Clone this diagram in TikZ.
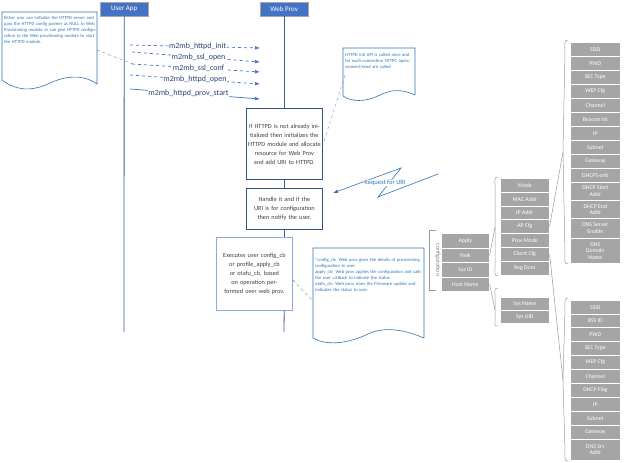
\documentclass[tikz,border=0pt]{standalone}
\usepackage{fontspec}
\setmainfont{Carlito}
\usetikzlibrary{arrows.meta,decorations.pathreplacing}
\definecolor{hb}{HTML}{4472C4}
\definecolor{tb}{HTML}{2E75B6}
\definecolor{gb}{HTML}{A5A5A5}
\tikzset{
 hdr/.style={draw=gray!70,fill=hb,text=white,minimum width=48pt,minimum height=14pt,font=\fontsize{7}{8}\selectfont,inner sep=0pt},
 life/.style={draw=hb!80!black,line width=0.8pt},
 pbox/.style={draw=hb!70!black,fill=white,line width=0.8pt,align=center,font=\fontsize{6.3}{9}\selectfont,text=black!75,inner sep=1pt},
 call/.style={draw=hb,-{Latex[length=5pt]},line width=0.7pt},
 clab/.style={fill=white,font=\fontsize{8}{9}\selectfont,text=hb!60!black,inner sep=0.5pt},
 notetxt/.style={font=\fontsize{4.6}{6}\selectfont,text=tb,align=left,anchor=north west,inner sep=0pt},
 cell/.style={fill=gb,draw=white,line width=0.6pt,text=white,font=\fontsize{5.8}{6.5}\selectfont,align=center,inner sep=0pt},
 gl/.style={draw=gray!80,line width=0.5pt},
}
\newcommand{\cellbox}[5]{\node[cell,minimum width=#3pt,minimum height=#4pt,anchor=north west] (#1) at (#2) {#5};}
\begin{document}
\begin{tikzpicture}[x=1pt,y=-1pt]
\useasboundingbox (0,0) rectangle (624,463);
% headers
\node[hdr,anchor=north west] (ua) at (100,2) {User App};
\node[hdr,anchor=north west] (wp) at (260,2) {Web Prov};
\coordinate (uaend) at (124,332);
\draw[life] (ua.south) -- (uaend);
% boxes
\node[pbox,text width=74pt,minimum height=71pt,anchor=north west] (b1) at (246,108) {If HTTPD is not already initialized then initializes the HTTPD module and allocate resource for Web Prov and add URI to HTTPD.};
\node[pbox,text width=74pt,minimum height=41pt,anchor=north west] (b2) at (246,188) {Handle it and if the URI is for configuration then notify the user.};
\node[pbox,text width=74pt,minimum height=73pt,anchor=north west,draw=hb!60,fill=white,drop shadow/.style={}] (b3) at (216,237) {Executes user config\_cb or profile\_apply\_cb or otafu\_cb, based on operation performed over web prov.};
\coordinate (wpend) at (284,332);
\draw[life] (wp.south) -- (b1.north -| wp.south);
\draw[life] (b1.south -| wp.south) -- (b2.north -| wp.south);
\draw[life] (b2.south -| wp.south) -- (b3.north -| wp.south);
\draw[life] (b3.south -| wp.south) -- (wpend);
% calls
\coordinate (c1) at (130,45); \coordinate (d1) at (260,48);
\coordinate (c2) at (132,52); \coordinate (d2) at (260,62);
\coordinate (c3) at (132,64); \coordinate (d3) at (260,72);
\coordinate (c4) at (130,75); \coordinate (d4) at (260,84);
\coordinate (c5) at (130,89); \coordinate (d5) at (260,99);
\draw[call,dashed] (c1) -- node[clab,pos=0.52]{m2mb\_httpd\_init} (d1);
\draw[call,dashed] (c2) -- node[clab,pos=0.52]{m2mb\_ssl\_open} (d2);
\draw[call,dashed] (c3) -- node[clab,pos=0.52]{m2mb\_ssl\_conf} (d3);
\draw[call,dashed] (c4) -- node[clab,pos=0.5]{m2mb\_httpd\_open} (d4);
\draw[call] (c5) -- node[clab,pos=0.45]{m2mb\_httpd\_prov\_start} (d5);
% note 1
\draw[draw=tb,fill=white,line width=0.6pt] (2,12) -- (97,12) -- (97,84) .. controls (80,72) and (60,78) .. (48,84) .. controls (30,92) and (15,90) .. (2,80) -- cycle;
\node[notetxt,text width=93pt] (n1) at (4,16) {Either user can initialize the HTTPD server and pass the HTTPD config pointer as NULL to Web Provisioning module or can give HTTPD configuration to the Web provisioning module to start the HTTPD module.};
\coordinate (n1a) at (97,50);
\coordinate (n1b) at (133,64);
\draw[gray,dashed,line width=0.4pt] (n1a) -- (n1b);
% note 2
\draw[draw=tb,fill=white,line width=0.6pt] (343,48) -- (415,48) -- (415,95) .. controls (400,88) and (390,90) .. (378,96) .. controls (365,102) and (352,102) .. (343,96) -- cycle;
\node[notetxt,text width=70pt] (n2) at (345,53) {HTTPD init API is called once and for each connection HTTPC open/ connect/send are called};
\coordinate (n2a) at (345,75);
\draw[tb!70,dashed,line width=0.4pt] (n2a) -- (b1.north east |- 0,145);
% request
\coordinate (r0) at (438,174);
\coordinate (r1) at (378,197);
\coordinate (r2) at (401,168);
\coordinate (r3) at (333,193);
\draw[draw=tb,line width=0.6pt,-{Latex[length=5pt]}] (r0) -- (r1) -- (r2) -- (r3);
\node[fill=white,text=tb,font=\fontsize{6.5}{7}\selectfont,inner sep=0.5pt] (rq) at (385,183) {Request for URI};
% note 3
\draw[draw=tb,fill=white,line width=0.6pt] (313,248) -- (424,248) -- (424,338) .. controls (405,330) and (385,326) .. (368,334) .. controls (345,345) and (325,345) .. (313,338) -- cycle;
\node[notetxt,text width=109pt] (n3) at (315,258) {*config\_cb: Web prov gives the details of provisioning configuration to user.\\ *apply\_cb: Web prov applies the configuration and calls the user callback to indicate the status.\\ *otafu\_cb: Web prov, does the Firmware update and indicates the status to user.};
\coordinate (n3a) at (314,302);
\draw[gray,dashed,line width=0.4pt] (b3.east |- 0,280) -- (n3a);
% configuration bracket
\draw[gl] (436,230) -- (429,230) -- (429,290) -- (436,290);
\node[rotate=-90,text=gray,font=\fontsize{6}{7}\selectfont] (cfg) at (438,260) {configuration};
% left column
\cellbox{ap}{441,233}{48}{15}{Apply}
\cellbox{nw}{441,248}{48}{14}{Nwk}
\cellbox{si}{441,262}{48}{15}{Sys ID}
\cellbox{hn}{441,277}{48}{14}{Host Name}
% middle
\cellbox{mo}{500,178}{49}{14}{Mode}
\cellbox{ma}{500,192}{49}{14}{MAC Addr}
\cellbox{ia}{500,206}{49}{13}{IP Addr}
\cellbox{ac}{500,219}{49}{14}{AP Cfg}
\cellbox{pm}{500,233}{49}{14}{Prov Mode}
\cellbox{cc}{500,247}{49}{14}{Client Cfg}
\cellbox{rd}{500,261}{49}{14}{Reg Dom}
\cellbox{sn}{500,297}{49}{13}{Sys Name}
\cellbox{su}{500,310}{49}{13}{Sys UID}
% right 1
\cellbox{r1a}{570,42}{50}{14}{SSID}
\cellbox{r1b}{570,56}{50}{14}{PWD}
\cellbox{r1c}{570,70}{50}{14}{SEC Type}
\cellbox{r1d}{570,84}{50}{14}{WEP Cfg}
\cellbox{r1e}{570,98}{50}{14}{Channel}
\cellbox{r1f}{570,112}{50}{14}{Beacon Int}
\cellbox{r1g}{570,126}{50}{14}{IP}
\cellbox{r1h}{570,140}{50}{14}{Subnet}
\cellbox{r1i}{570,154}{50}{14}{Gateway}
\cellbox{r1j}{570,168}{50}{14}{DHCPS enb}
\cellbox{r1k}{570,182}{50}{18}{DHCP Start\\Addr}
\cellbox{r1l}{570,200}{50}{18}{DHCP End\\Addr}
\cellbox{r1m}{570,218}{50}{20}{DNS Server\\Enable}
\cellbox{r1n}{570,238}{50}{25}{DNS\\Domain\\Name}
% right 2
\cellbox{r2a}{570,300}{50}{14}{SSID}
\cellbox{r2b}{570,314}{50}{13}{BSS ID}
\cellbox{r2c}{570,327}{50}{14}{PWD}
\cellbox{r2d}{570,341}{50}{14}{SEC Type}
\cellbox{r2e}{570,355}{50}{14}{WEP Cfg}
\cellbox{r2f}{570,369}{50}{14}{Channel}
\cellbox{r2g}{570,383}{50}{14}{DHCP Flag}
\cellbox{r2h}{570,397}{50}{14}{IP}
\cellbox{r2i}{570,411}{50}{14}{Subnet}
\cellbox{r2j}{570,425}{50}{14}{Gateway}
\cellbox{r2k}{570,439}{50}{21}{DNS Srv\\Addr}
% braces
\coordinate (bm) at (495,227);
\coordinate (bs) at (495,310);
\coordinate (br1) at (563,152);
\coordinate (br2) at (563,380);
\draw[gl] (498,177) .. controls (494,177) and (495,180) .. (495,185) -- (bm) -- (495,268) .. controls (495,273) and (494,276) .. (498,276);
\draw[gl] (498,288) .. controls (494,288) and (495,291) .. (495,295) -- (bs) -- (495,322) .. controls (495,326) and (494,326) .. (498,326);
\draw[gl] (568,40) .. controls (564,40) and (565,44) .. (565,50) -- (br1) -- (565,255) .. controls (565,260) and (564,264) .. (568,264);
\draw[gl] (568,298) .. controls (564,298) and (565,302) .. (565,308) -- (br2) -- (565,452) .. controls (565,458) and (564,461) .. (568,461);
\draw[gl] (nw.east) -- (bm);
\draw[gl] (hn.east) -- (bs);
\draw[gl] (ac.east) -- (br1);
\draw[gl] (cc.east) -- (br2);
\end{tikzpicture}
\end{document}
